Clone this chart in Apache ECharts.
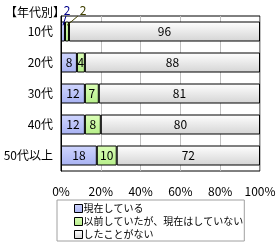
<!DOCTYPE html>
<html>
<head>
<meta charset="utf-8">
<script src="https://cdn.jsdelivr.net/npm/echarts@6/dist/echarts.min.js"></script>
<style>
html, body { margin: 0; padding: 0; background: #fff; }
#chart { width: 280px; height: 245px; }
</style>
</head>
<body>
<div id="chart"></div>
<script>
var categories = ['10代', '20代', '30代', '40代', '50代以上'];
var current = [2, 8, 12, 12, 18];   // 現在している
var past = [2, 4, 7, 8, 10];        // 以前していたが、現在はしていない
var never = [96, 88, 81, 80, 72];   // したことがない
var xTicks = [0, 20, 40, 60, 80, 100];

var font = '"Noto Sans CJK JP", sans-serif';
var leadBlue = '#00008b';
var leadOlive = '#404000';
var chart = echarts.init(document.getElementById('chart'));

function grad(top, bottom) {
    return new echarts.graphic.LinearGradient(0, 0, 0, 1, [
        { offset: 0, color: top },
        { offset: 1, color: bottom }
    ]);
}

// 10代 の小さい値はバーの上に引き出して表示
function pulled(values, color) {
    return values.map(function (v, i) {
        if (i !== 0) return v;
        return { value: v, label: { color: color } };
    });
}

function barSeries(name, data, fill, leadColor, dx) {
    return {
        name: name,
        type: 'bar',
        stack: 'total',
        barWidth: 20,
        data: leadColor ? pulled(data, leadColor) : data,
        itemStyle: { color: fill, borderColor: '#000', borderWidth: 1 },
        label: { show: true, position: 'inside', color: '#000', fontSize: 12, fontFamily: font },
        labelLayout: function (params) {
            if (leadColor && params.dataIndex === 0) {
                return { dx: dx, dy: -21 };
            }
        },
        emphasis: { disabled: true }
    };
}

// 引き出し線: 補助の数値軸 (カテゴリ i の中心 = i + 0.5) 上に描く
function leader(fromX, toX, color) {
    return {
        type: 'line',
        xAxisIndex: 0,
        yAxisIndex: 1,
        data: [[fromX, 0.3], [toX, 0.0]],
        symbol: 'none',
        clip: false,
        silent: true,
        z: 10,
        lineStyle: { color: color, width: 1 }
    };
}

var option = {
    animation: false,
    textStyle: { fontFamily: font },
    title: {
        text: '【年代別】',
        left: 0,
        top: 1,
        textStyle: { fontSize: 12, fontWeight: 'normal', color: '#000', fontFamily: font }
    },
    grid: {
        left: 61,
        right: 20,
        top: 16,
        bottom: 74,
        show: true,
        borderColor: '#000',
        borderWidth: 1
    },
    xAxis: {
        type: 'value',
        min: xTicks[0],
        max: xTicks[xTicks.length - 1],
        interval: 20,
        axisLine: { show: false },
        axisTick: { show: false },
        splitLine: { lineStyle: { color: '#c0c0c0' } },
        axisLabel: { formatter: '{value}%', color: '#000', fontSize: 12, margin: 14, fontFamily: font }
    },
    yAxis: [
        {
            type: 'category',
            data: categories,
            inverse: true,
            axisLine: { lineStyle: { color: '#000' } },
            axisTick: { inside: true, length: 3, lineStyle: { color: '#000' } },
            axisLabel: { color: '#000', fontSize: 12, margin: 8, fontFamily: font }
        },
        {
            type: 'value',
            min: 0,
            max: categories.length,
            inverse: true,
            show: false
        }
    ],
    legend: {
        orient: 'vertical',
        left: 57,
        top: 200,
        height: 44,
        padding: [2, 1, 0, 17],
        borderColor: '#a0a0a0',
        borderWidth: 1,
        itemWidth: 8,
        itemHeight: 8,
        itemGap: 0,
        icon: 'rect',
        itemStyle: { borderColor: '#000', borderWidth: 1 },
        textStyle: { fontSize: 10, color: '#000', padding: [0, 0, 0, -4], lineHeight: 13, fontFamily: font },
        selectedMode: false,
        data: ['現在している', '以前していたが、現在はしていない', 'したことがない']
    },
    series: [
        barSeries('現在している', current, grad('#d0d6ff', '#a8b2f2'), leadBlue, 4),
        barSeries('以前していたが、現在はしていない', past, grad('#dcffb8', '#b6ee8a'), leadOlive, 16),
        barSeries('したことがない', never, grad('#ffffff', '#d4d4d4')),
        leader(current[0] / 2, current[0] / 2 + 1.5, leadBlue),
        leader(current[0] + past[0] / 2, current[0] + past[0] / 2 + 5.5, leadOlive)
    ]
};
chart.setOption(option);
</script>
</body>
</html>
